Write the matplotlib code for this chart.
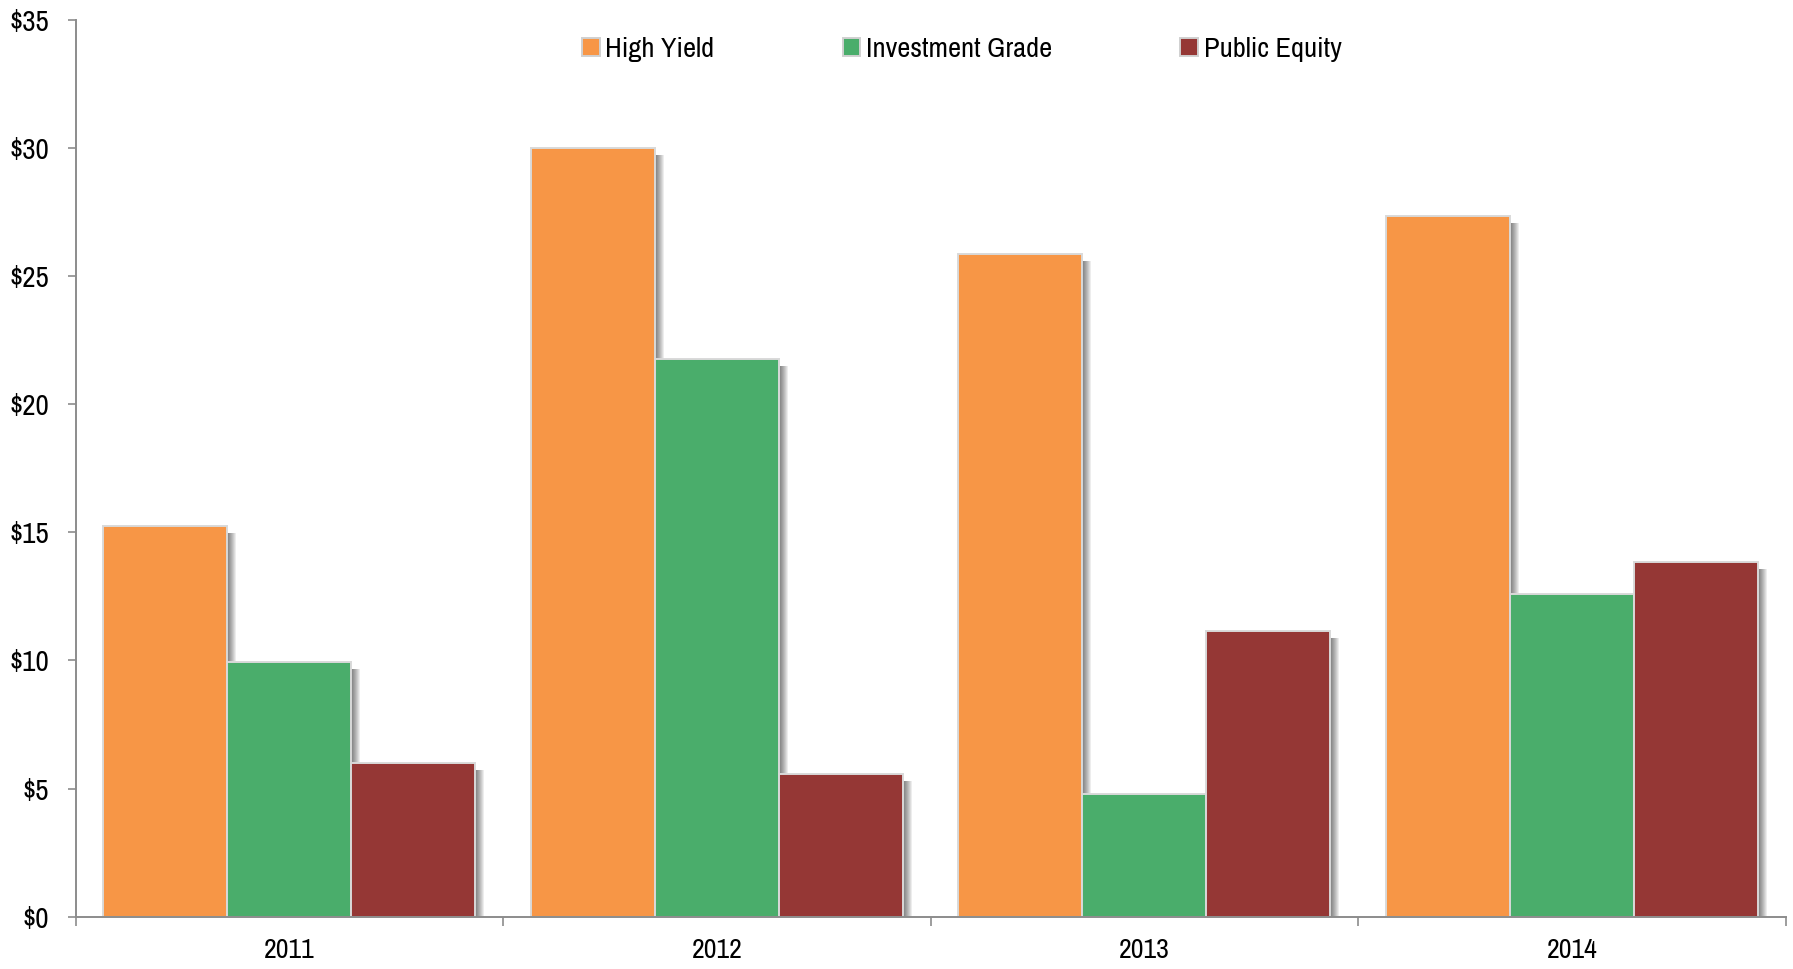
import matplotlib
matplotlib.use("Agg")
import matplotlib.pyplot as plt
import matplotlib.patheffects as pe
from matplotlib import font_manager
import numpy as np

# pick a narrow sans for all chart text
installed = {f.name for f in font_manager.fontManager.ttflist}
narrow = [n for n in ["Liberation Sans Narrow", "Arial Narrow", "Archivo Narrow",
                      "Roboto Condensed", "PT Sans Narrow", "Pragati Narrow",
                      "Open Sans Condensed", "IBM Plex Sans Condensed"]
          if n in installed]
plt.rcParams['font.family'] = narrow[:1] + ['DejaVu Sans']

years = ["2011", "2012", "2013", "2014"]
high_yield = [15.25, 30.0, 25.85, 27.35]
investment_grade = [9.95, 21.75, 4.8, 12.6]
public_equity = [6.0, 5.55, 11.15, 13.85]

series = [
    ("High Yield", high_yield, "#F79646"),
    ("Investment Grade", investment_grade, "#4AAD6B"),
    ("Public Equity", public_equity, "#953735"),
]

# soft drop shadow to the right of each bar, stacked thin offset layers
shadow = [pe.SimplePatchShadow(offset=(dx, -5), shadow_rgbFace="black", alpha=0.07)
          for dx in np.arange(6.5, 0.4, -0.75)]
shadow.append(pe.Normal())

fig = plt.figure(figsize=(17.93, 9.69), dpi=100)
ax = fig.add_axes([0.0422, 0.054, 0.9537, 0.9255])

x = np.arange(len(years))
w = 0.29
handles = []
for i, (name, vals, col) in enumerate(series):
    bars = ax.bar(x + (i - 1) * w, vals, width=w, color=col,
                  edgecolor="#D9D9D9", linewidth=1.4, label=name, zorder=2)
    for b in bars:
        b.set_path_effects(shadow)
    handles.append(bars)

ax.set_xlim(-0.5, len(years) - 0.5)
ax.set_ylim(0, 35)

ax.set_yticks(np.arange(0, 36, 5))
ax.set_yticklabels(["$%d" % v for v in range(0, 36, 5)])
ax.tick_params(axis="y", direction="out", length=6, width=1.2, color="#8C8C8C",
               pad=13, labelsize=21)

# group boundaries carry the tick marks, year labels sit on minor ticks
ax.set_xticks(np.arange(-0.5, len(years), 1.0))
ax.set_xticklabels([])
ax.set_xticks(x, minor=True)
ax.set_xticklabels(years, minor=True)
ax.tick_params(axis="x", which="major", direction="out", length=6.5, width=1.2,
               color="#8C8C8C")
ax.tick_params(axis="x", which="minor", length=0, pad=15, labelsize=20)

for s in ["top", "right"]:
    ax.spines[s].set_visible(False)
for s in ["left", "bottom"]:
    ax.spines[s].set_color("#8C8C8C")
    ax.spines[s].set_linewidth(1.4)
    ax.spines[s].set_zorder(3)

leg = fig.legend(handles=handles, loc="center", bbox_to_anchor=(0.5364, 0.949),
                 ncol=3, frameon=False, fontsize=20.5, handlelength=0.62,
                 handleheight=0.62, handletextpad=0.2, columnspacing=4.5)
for h in leg.legend_handles:
    h.set_path_effects([])
    h.set_edgecolor("#D0D0D0")

fig.savefig("out.png", dpi=100)
